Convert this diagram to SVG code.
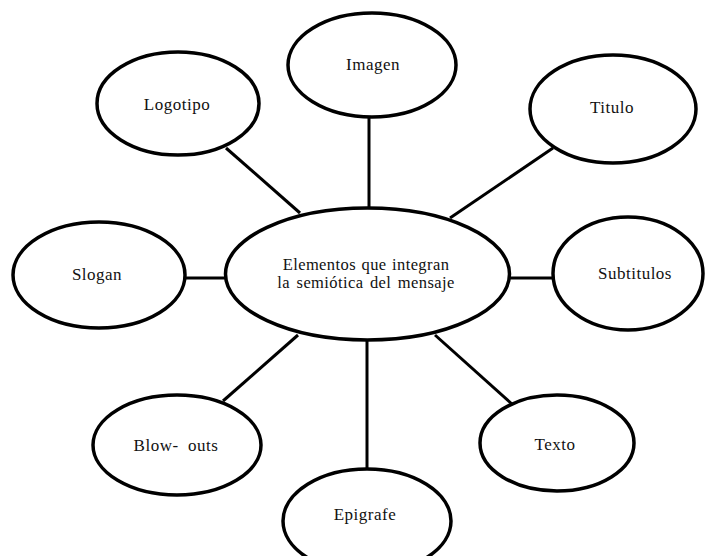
<svg xmlns="http://www.w3.org/2000/svg" width="706" height="556" viewBox="0 0 706 556">
<style>
.n{fill:#fff;stroke:#000;stroke-width:3.5}
.c line{stroke:#000;stroke-width:3}
text{font-family:"Liberation Serif","Times New Roman",serif;font-size:17px;fill:#111;text-anchor:middle;letter-spacing:0.5px}
.m{font-size:16.5px;letter-spacing:0.4px}
</style>
<rect width="706" height="556" fill="#fff"/>
<g class="c" id="connectors">
<line x1="369" y1="117" x2="369" y2="209"/>
<line x1="226" y1="148" x2="300" y2="213"/>
<line x1="553" y1="148" x2="450" y2="218"/>
<line x1="185" y1="278" x2="227" y2="278"/>
<line x1="508" y1="278" x2="553" y2="278"/>
<line x1="223" y1="401" x2="298" y2="335"/>
<line x1="435" y1="335" x2="513" y2="405"/>
<line x1="367" y1="339" x2="367" y2="470"/>
</g>
<g id="imagen"><ellipse class="n" cx="372" cy="65" rx="84" ry="52"/><text x="373" y="70">Imagen</text></g>
<g id="logotipo"><ellipse class="n" cx="178" cy="103.5" rx="81" ry="51.5"/><text x="177" y="110">Logotipo</text></g>
<g id="titulo"><ellipse class="n" cx="613" cy="109" rx="83" ry="54"/><text x="612" y="113">Titulo</text></g>
<g id="slogan"><ellipse class="n" cx="99" cy="275" rx="86" ry="53"/><text x="97" y="280">Slogan</text></g>
<g id="centro"><ellipse class="n" cx="367.5" cy="274" rx="142" ry="66"/><text class="m" x="366" y="270" word-spacing="1">Elementos  que integran</text><text class="m" x="366" y="288" word-spacing="2">la semiótica del mensaje</text></g>
<g id="subtitulos"><ellipse class="n" cx="628" cy="273.5" rx="75" ry="56.5"/><text x="635" y="279">Subtitulos</text></g>
<g id="blowouts"><ellipse class="n" cx="177" cy="445" rx="84" ry="50"/><text x="176" y="451" xml:space="preserve">Blow-  outs</text></g>
<g id="texto"><ellipse class="n" cx="557" cy="443" rx="77" ry="48"/><text x="555" y="450">Texto</text></g>
<g id="epigrafe"><ellipse class="n" cx="367" cy="521" rx="84" ry="52"/><text x="365" y="520">Epigrafe</text></g>
</svg>
